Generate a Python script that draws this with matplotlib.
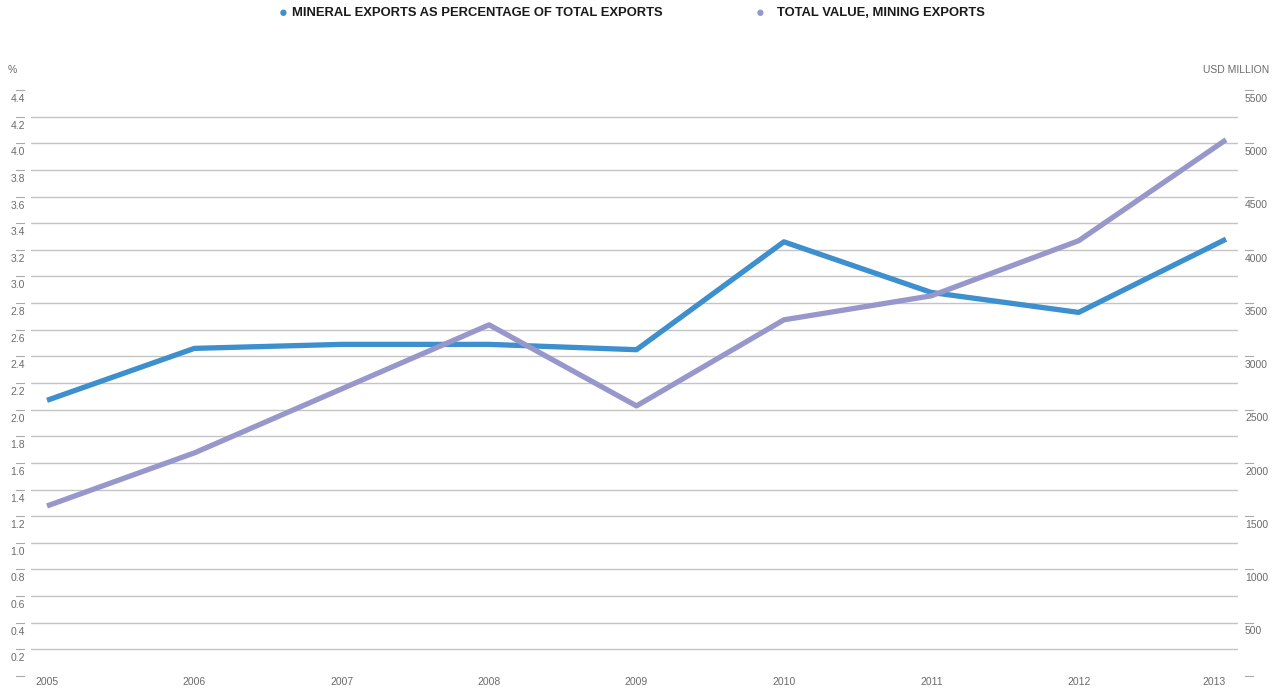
import matplotlib
matplotlib.use("Agg")
import matplotlib.pyplot as plt
import matplotlib.transforms as mtransforms

# data
years = [2005, 2006, 2007, 2008, 2009, 2010, 2011, 2012, 2013]
mineral_pct = [2.07, 2.46, 2.49, 2.49, 2.45, 3.26, 2.88, 2.73, 3.28]
mining_usd = [1596, 2094, 2695, 3296, 2535, 3343, 3568, 4085, 5033]

left_ticks = [0.2, 0.4, 0.6, 0.8, 1.0, 1.2, 1.4, 1.6, 1.8, 2.0, 2.2, 2.4,
              2.6, 2.8, 3.0, 3.2, 3.4, 3.6, 3.8, 4.0, 4.2, 4.4]
right_ticks = [500, 1000, 1500, 2000, 2500, 3000, 3500, 4000, 4500, 5000, 5500]

blue = "#3d8fcd"
purple = "#9897cc"
grey_txt = "#6b6b6b"

W, H = 1285, 688
fig = plt.figure(figsize=(W / 100, H / 100), dpi=100)
plt.rcParams['font.family'] = ['Liberation Sans', 'DejaVu Sans']

# axes box in pixels: x 31..1238, y 90..676
ax = fig.add_axes([31 / W, (H - 676) / H, (1238 - 31) / W, (676 - 90) / H])
ax2 = ax.twinx()

ax.set_ylim(0, 4.4)
ax2.set_ylim(0, 5500)
ax.set_xlim(2005 - 16 / 147.4, 2013 + 12 / 147.4)

for t in left_ticks[:-1]:
    ax.axhline(t, color="#c4c4c4", lw=1.0, zorder=1)

ax.plot(years, mineral_pct, color=blue, lw=3.8, zorder=3, solid_capstyle="butt")
ax2.plot(years, mining_usd, color=purple, lw=3.8, zorder=4, solid_capstyle="butt")
ax2.set_zorder(ax.get_zorder() + 1)

for a in (ax, ax2):
    a.set_yticks([])
    a.set_xticks([])
    for s in a.spines.values():
        s.set_visible(False)
ax.patch.set_visible(False)

# left scale: short dash on the value, label just below it
tl = mtransforms.blended_transform_factory(fig.transFigure, ax.transData)
for t in [0] + left_ticks:
    ax.plot([16 / W, 24 / W], [t, t], transform=tl, color="#aaaaaa", lw=0.8, clip_on=False)
for t in left_ticks:
    ax.text(25 / W, t - 0.03, f"{t:.1f}", transform=tl, ha="right", va="top",
            fontsize=7.5, color=grey_txt)

tr = mtransforms.blended_transform_factory(fig.transFigure, ax2.transData)
for t in [0] + right_ticks:
    ax2.plot([1245 / W, 1253 / W], [t, t], transform=tr, color="#aaaaaa", lw=0.8, clip_on=False)
for t in right_ticks:
    ax2.text(1245 / W, t - 35, f"{t}", transform=tr, ha="left", va="top",
             fontsize=7.5, color=grey_txt)

# year labels (last one kept inside the plot)
tx = mtransforms.blended_transform_factory(ax.transData, fig.transFigure)
for y in years:
    ha = "right" if y == years[-1] else "center"
    ax.text(y, (H - 682) / H, str(y), transform=tx, ha=ha, va="center",
            fontsize=7.5, color=grey_txt)

fig.text(8 / W, 1 - 70 / H, "%", ha="left", va="center", fontsize=7.5, color=grey_txt)
fig.text(1269 / W, 1 - 70 / H, "USD MILLION", ha="right", va="center",
         fontsize=7.5, color=grey_txt)

# legend at the top
fig.text(283 / W, 1 - 13 / H, "\u25cf", ha="center", va="center", fontsize=10.5, color=blue)
fig.text(292 / W, 1 - 13 / H, "MINERAL EXPORTS AS PERCENTAGE OF TOTAL EXPORTS",
         ha="left", va="center", fontsize=9.4, fontweight="bold", color="#1a1a1a")
fig.text(760 / W, 1 - 13 / H, "\u25cf", ha="center", va="center", fontsize=10.5, color=purple)
fig.text(777 / W, 1 - 13 / H, "TOTAL VALUE, MINING EXPORTS",
         ha="left", va="center", fontsize=9.4, fontweight="bold", color="#1a1a1a")

fig.savefig("out.png", dpi=100)
